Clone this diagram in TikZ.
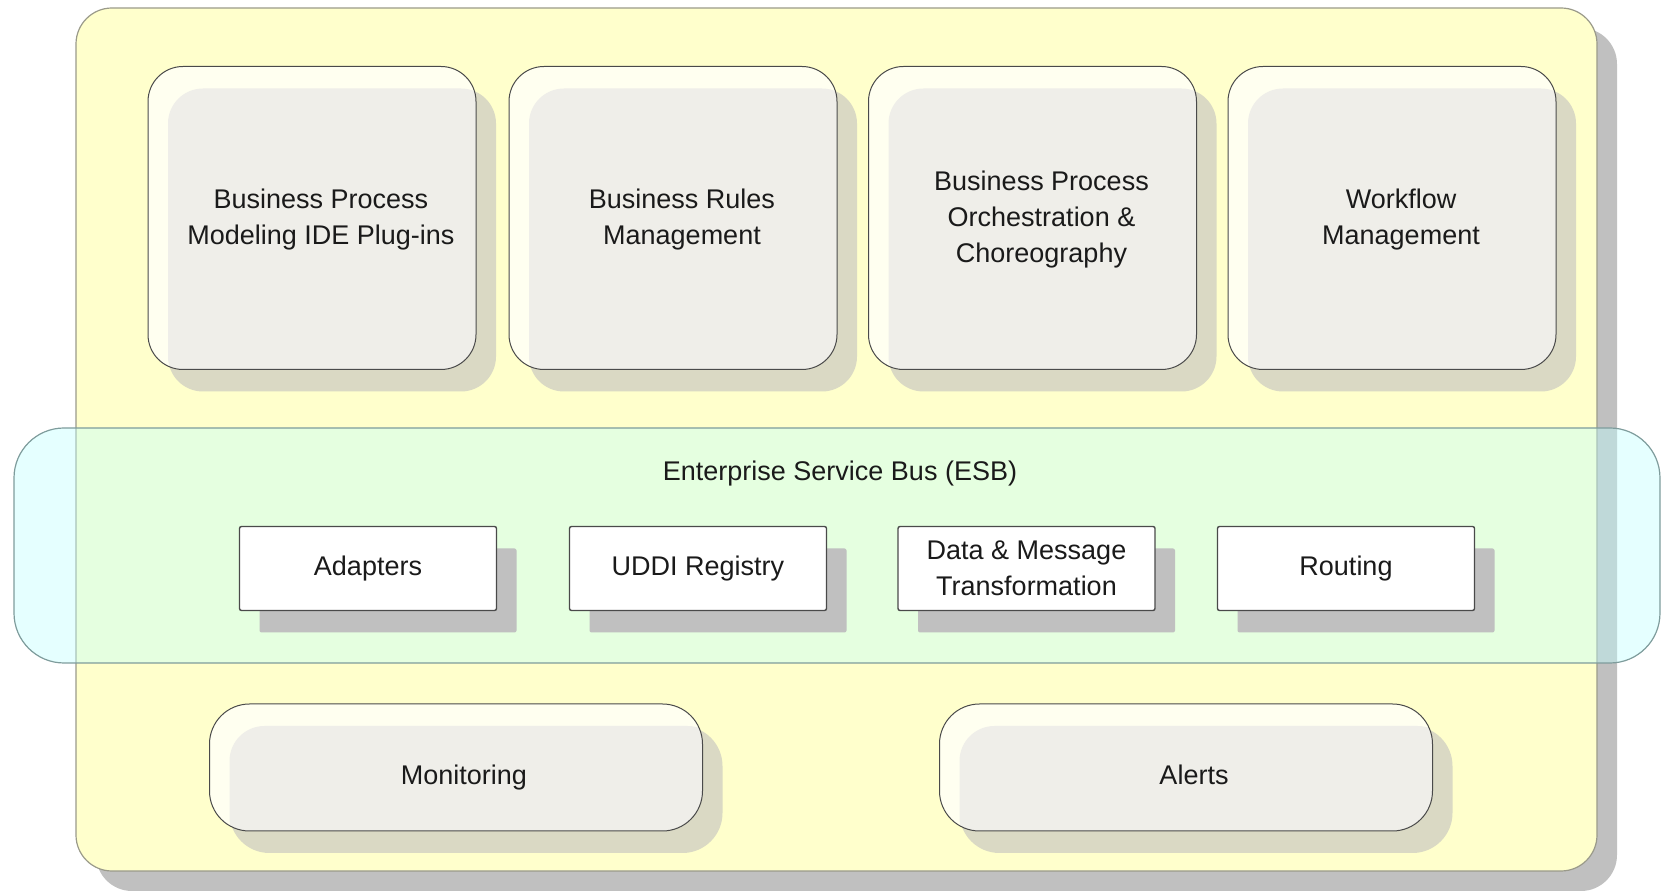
\documentclass[tikz,border=0pt]{standalone}
\usepackage{fontspec}
\setmainfont{Liberation Sans}
\usetikzlibrary{shadows}
\definecolor{outerfill}{HTML}{FFFFCC}
\definecolor{outerborder}{HTML}{9A9A8A}
\definecolor{outershadow}{HTML}{C0C0C0}
\definecolor{cream}{HTML}{FFFFF0}
\definecolor{innergray}{HTML}{EFEEE9}
\definecolor{boxshadow}{HTML}{DAD9C4}
\definecolor{boxborder}{HTML}{4A4A4A}
\definecolor{bandfill}{RGB}{190,255,255}
\definecolor{bandborder}{HTML}{7E9C9C}
\definecolor{txt}{HTML}{1A1A1A}
\begin{document}
\begin{tikzpicture}[x=0.5pt,y=-0.5pt,
  lbl/.style={font=\fontsize{13.5}{18}\selectfont, text=txt, align=center},
  onelbl/.style={lbl, text height=9.8pt, text depth=2.8pt},
  outerbox/.style={draw=outerborder, fill=outerfill, rounded corners=18pt, line width=0.6pt,
    drop shadow={shadow xshift=10pt, shadow yshift=-10pt, fill=outershadow, opacity=1}},
  topbox/.style={draw=boxborder, fill=cream, rounded corners=17.5pt, line width=0.5pt,
    minimum width=164pt, minimum height=151.5pt, inner sep=0pt,
    drop shadow={shadow xshift=10pt, shadow yshift=-11pt, fill=boxshadow, opacity=1},
    path picture={\fill[innergray, rounded corners=17.5pt]
      ([xshift=10pt,yshift=-11pt]path picture bounding box.north west) rectangle
      ([xshift=10pt,yshift=-11pt]path picture bounding box.south east);}},
  botbox/.style={topbox, rounded corners=20pt, minimum width=246.5pt, minimum height=63.5pt},
  band/.style={draw=bandborder, fill=bandfill, fill opacity=0.4, rounded corners=25pt, line width=0.6pt,
    minimum width=823pt, minimum height=117.5pt, inner sep=0pt},
  smallbox/.style={lbl, draw=boxborder, fill=white, line width=0.7pt, rounded corners=1pt,
    minimum width=128.5pt, minimum height=42pt, inner sep=0pt,
    drop shadow={shadow xshift=10pt, shadow yshift=-11pt, fill=outershadow, opacity=1}}
]
\useasboundingbox (0,0) rectangle (1662,892);
% outer container
\node[outerbox, minimum width=760.5pt, minimum height=431.5pt, inner sep=0pt] (outer) at (836.5,439.5) {};
% top row
\node[topbox] (bpm) at (312,218) {};
\node[topbox] (brm) at (673,218) {};
\node[topbox] (bpo) at (1032.5,218) {};
\node[topbox] (wfm) at (1392,218) {};
\node[lbl] (bpmt) at ([xshift=4.5pt,yshift=-0.8pt]bpm.center) {Business Process\\Modeling IDE Plug-ins};
\node[lbl] (brmt) at ([xshift=4.5pt,yshift=-0.8pt]brm.center) {Business Rules\\Management};
\node[lbl] (bpot) at ([xshift=4.5pt,yshift=-0.8pt]bpo.center) {Business Process\\Orchestration \&\\Choreography};
\node[lbl] (wfmt) at ([xshift=4.5pt,yshift=-0.8pt]wfm.center) {Workflow\\Management};
% bottom row
\node[botbox] (mon) at (456,767.5) {};
\node[botbox] (alr) at (1186,767.5) {};
\node[onelbl] (mont) at ([xshift=4pt,yshift=-5pt]mon.center) {Monitoring};
\node[onelbl] (alrt) at ([xshift=4pt,yshift=-5pt]alr.center) {Alerts};
% ESB band
\node[band] (esb) at (837,545.5) {};
\node[lbl] (esblbl) at (840,474) {Enterprise Service Bus (ESB)};
% small boxes
\node[smallbox] (adp) at (368,568.5) {Adapters};
\node[smallbox] (udd) at (698,568.5) {UDDI Registry};
\node[smallbox] (dmt) at (1026.5,568.5) {Data \& Message\\Transformation};
\node[smallbox] (rou) at (1346,568.5) {Routing};
\end{tikzpicture}
\end{document}
